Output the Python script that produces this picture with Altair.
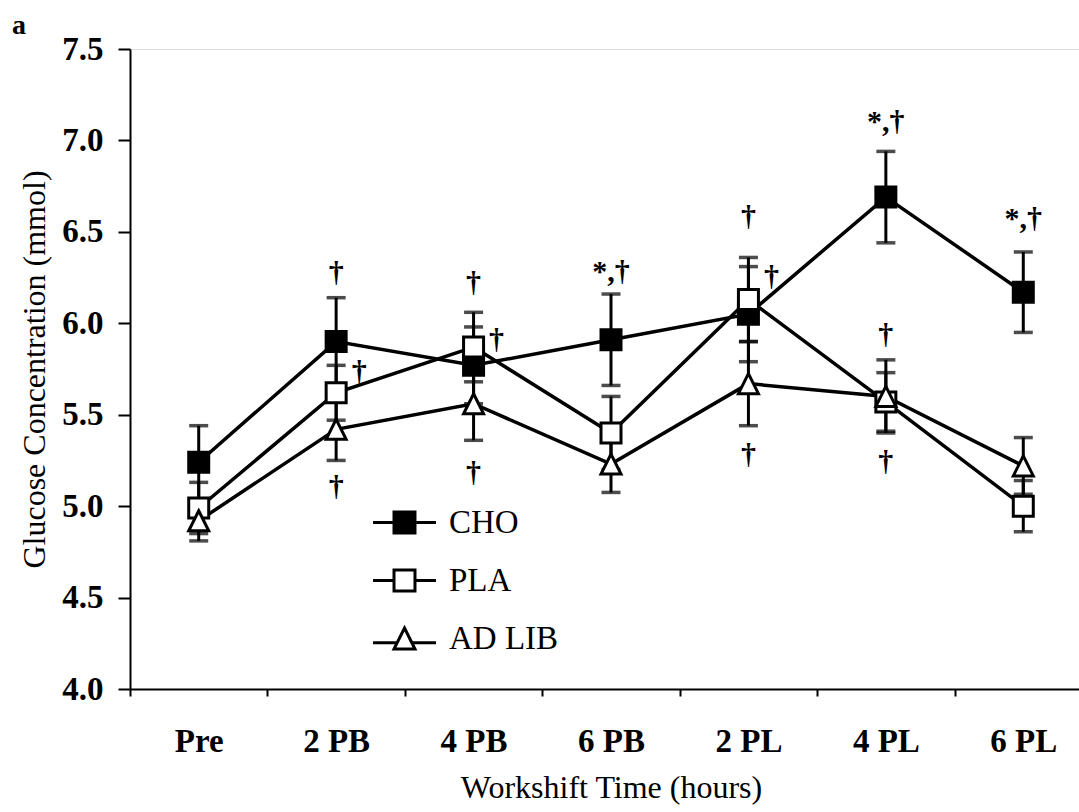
import altair as alt
import pandas as pd

categories = ["Pre", "2 PB", "4 PB", "6 PB", "2 PL", "4 PL", "6 PL"]
series_names = ["CHO", "PLA", "AD LIB"]

cho_mean = [5.24, 5.90, 5.77, 5.91, 6.05, 6.69, 6.17]
cho_se = [0.20, 0.24, 0.21, 0.25, 0.26, 0.25, 0.22]
pla_mean = [4.99, 5.62, 5.87, 5.40, 6.13, 5.57, 5.00]
pla_se = [0.14, 0.15, 0.19, 0.20, 0.23, 0.16, 0.14]
adlib_mean = [4.92, 5.42, 5.56, 5.23, 5.67, 5.60, 5.22]
adlib_se = [0.11, 0.17, 0.20, 0.155, 0.23, 0.20, 0.155]

# significance marks
ann_cat = ["2 PB", "2 PB", "4 PB", "4 PB", "6 PB", "2 PL", "2 PL", "4 PL", "4 PL", "4 PL", "6 PL"]
ann_y = [6.275, 5.105, 6.22, 5.18, 6.28, 6.58, 5.28, 7.10, 5.936, 5.243, 6.57]
ann_text = ["†", "†", "†", "†", "*,†", "†", "†", "*,†", "†", "†", "*,†"]
side_cat = ["2 PB", "4 PB", "2 PL"]
side_y = [5.735, 5.91, 6.255]
side_text = ["†", "†", "†"]

rows = []
for name, m, s in [("CHO", cho_mean, cho_se), ("PLA", pla_mean, pla_se), ("AD LIB", adlib_mean, adlib_se)]:
    for c, mv, sv in zip(categories, m, s):
        rows.append({"cat": c, "series": name, "mean": mv, "lo": mv - sv, "hi": mv + sv})
df = pd.DataFrame(rows)
ann = pd.DataFrame({"cat": ann_cat, "y": ann_y, "t": ann_text})
side = pd.DataFrame({"cat": side_cat, "y": side_y, "t": side_text})

SERIF = "Liberation Serif"
TRI = "M0,-1L1,1L-1,1Z"
LEG_SQ = "M-3,0H-1M1,0H3M-1,-1H1V1H-1Z"
LEG_TRI = "M-3,0.4H-0.75M0.75,0.4H3M0,-1L1,1L-1,1Z"

xenc = alt.X("cat:N", sort=categories,
             scale=alt.Scale(type="band", paddingInner=0, paddingOuter=0, range=[0, 962]),
             axis=alt.Axis(title="Workshift Time (hours)", tickBand="extent", labelAngle=0,
                           labelFont=SERIF, labelFontWeight="bold", labelFontSize=33,
                           labelColor="black", labelPadding=29, tickSize=7, tickWidth=2,
                           tickColor="black", domainColor="black", domainWidth=2,
                           titleFont=SERIF, titleFontWeight="normal", titleFontSize=32,
                           titleColor="black", titlePadding=14, grid=False))
yscale = alt.Scale(domain=[4.0, 7.5], nice=False, zero=False)
yenc = alt.Y("mean:Q", scale=yscale,
             axis=alt.Axis(title="Glucose Concentration (mmol)",
                           values=[4.0, 4.5, 5.0, 5.5, 6.0, 6.5, 7.0, 7.5], format=".1f",
                           labelFont=SERIF, labelFontWeight="bold", labelFontSize=33,
                           labelColor="black", labelPadding=15, tickSize=12, tickWidth=2,
                           tickColor="black", domainColor="black", domainWidth=2,
                           titleFont=SERIF, titleFontWeight="normal", titleFontSize=32,
                           titleColor="black", titlePadding=10, grid=False))

xs = alt.X("cat:N", sort=categories)
base = alt.Chart(df)

lines = base.mark_line(color="black", strokeWidth=3.5).encode(
    x=xenc, y=yenc, detail="series:N")

bars = base.mark_rule(color="black", strokeWidth=3).encode(
    x=xs, y=alt.Y("lo:Q", scale=yscale), y2="hi:Q")
cap_hi = base.mark_tick(color="black", thickness=3.5, size=19, orient="horizontal").encode(
    x=xs, y=alt.Y("hi:Q", scale=yscale))
cap_lo = base.mark_tick(color="black", thickness=3.5, size=19, orient="horizontal").encode(
    x=xs, y=alt.Y("lo:Q", scale=yscale))

points = base.mark_point(filled=True, stroke="black", strokeWidth=3, size=400, opacity=1).encode(
    x=xs,
    y=alt.Y("mean:Q", scale=yscale),
    shape=alt.Shape("series:N",
                    scale=alt.Scale(domain=series_names, range=["square", "square", TRI]),
                    legend=None),
    fill=alt.Fill("series:N",
                  scale=alt.Scale(domain=series_names, range=["black", "white", "white"]),
                  legend=None))

leg = alt.Legend(title=None, orient="none", legendX=258, legendY=457,
                 symbolSize=440, symbolStrokeColor="black", symbolStrokeWidth=3,
                 symbolOpacity=1, labelFont=SERIF, labelFontSize=33,
                 labelColor="black", labelOffset=28, rowPadding=24, padding=0)
legend_layer = base.transform_filter("false").mark_point(
    filled=True, strokeWidth=3, size=440, opacity=1).encode(
    x=xs,
    y=alt.Y("mean:Q", scale=yscale),
    shape=alt.Shape("series:N",
                    scale=alt.Scale(domain=series_names, range=[LEG_SQ, LEG_SQ, LEG_TRI]),
                    legend=leg),
    fill=alt.Fill("series:N",
                  scale=alt.Scale(domain=series_names, range=["black", "white", "white"]),
                  legend=leg),
    stroke=alt.Stroke("series:N",
                      scale=alt.Scale(domain=series_names, range=["black", "black", "black"]),
                      legend=leg))

marks = alt.Chart(ann).mark_text(font=SERIF, fontWeight="bold", fontSize=30, color="black",
                                 baseline="middle", align="center").encode(
    x=xs, y=alt.Y("y:Q", scale=yscale), text="t:N")
side_marks = alt.Chart(side).mark_text(font=SERIF, fontWeight="bold", fontSize=30, color="black",
                                       baseline="middle", align="center", dx=23).encode(
    x=xs, y=alt.Y("y:Q", scale=yscale), text="t:N")

chart = alt.layer(lines, bars, cap_hi, cap_lo, points, legend_layer, marks, side_marks).resolve_scale(
    shape="independent", fill="independent", stroke="independent"
).properties(
    width=949, height=640,
    autosize=alt.AutoSizeParams(type="none"),
    padding={"left": 130, "top": 49, "right": 0, "bottom": 123},
    title=alt.TitleParams(text="a", anchor="start", frame="group", dx=-118, dy=31, offset=2,
                          baseline="alphabetic",
                          font=SERIF, fontWeight="bold", fontSize=28, color="black"),
).configure_view(stroke=None).configure(background="white")

chart.save("out.html", embed_options={"renderer": "svg", "actions": False})
